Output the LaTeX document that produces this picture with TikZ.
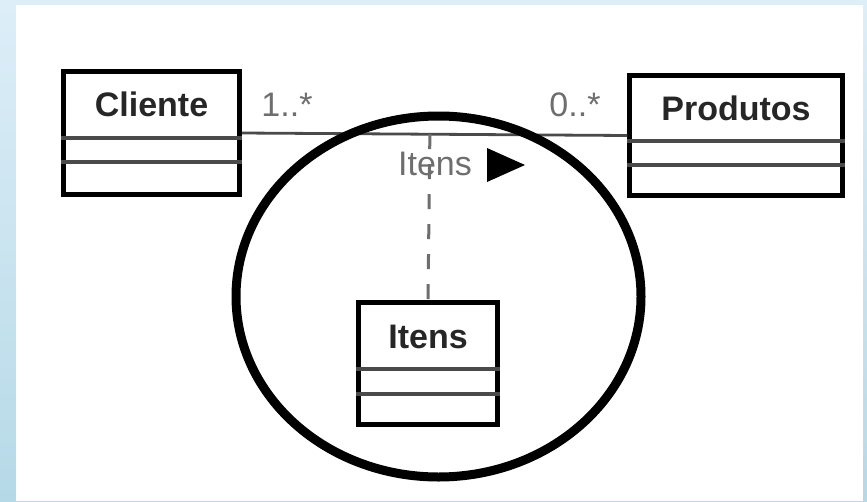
\documentclass[tikz,border=0pt]{standalone}
\usepackage{fontspec}
\setmainfont{Liberation Sans}
\usetikzlibrary{calc}
\definecolor{bgtop}{HTML}{DDEEF8}
\definecolor{bgbot}{HTML}{B6D9E7}
\definecolor{linegray}{HTML}{4A4A4A}
\definecolor{labelgray}{HTML}{6E6E6E}
\tikzset{
  classbox/.style={draw=black, line width=4.5pt, fill=white, inner sep=0pt},
  classname/.style={font=\fontsize{34}{40}\selectfont\bfseries, text=black!85, inner sep=0pt},
  divider/.style={draw=linegray, line width=3.5pt},
  assoc/.style={draw=linegray, line width=2.8pt},
  mult/.style={font=\fontsize{34}{40}\selectfont, text=labelgray, inner sep=0pt},
  dependency/.style={draw=labelgray, line width=3pt, dash pattern=on 15pt off 15pt},
  highlight/.style={draw=black, line width=9pt}
}
\begin{document}
\begin{tikzpicture}[x=1pt, y=-1pt]
  \useasboundingbox (0,0) rectangle (867,501);
  % page background with the white sheet
  \shade[top color=bgtop, bottom color=bgbot] (0,0) rectangle (867,501);
  \fill[white] (16,5) rectangle (863,501);

  % classes
  \node[classbox, minimum width=176pt, minimum height=123pt] (cl) at (151.5,133) {};
  \node[classbox, minimum width=213pt, minimum height=120pt] (pr) at (736,135.5) {};
  \node[classbox, minimum width=139pt, minimum height=122pt] (it) at (428,363.5) {};

  \node[classname] (clname) at ([yshift=-35.5pt]cl.north) {Cliente};
  \node[classname] (prname) at ([yshift=-35pt]pr.north) {Produtos};
  \node[classname] (itname) at ([yshift=-37pt]it.north) {Itens};

  % compartments
  \draw[divider] ([yshift=-68.5pt]cl.north west) -- ([yshift=-68.5pt]cl.north east);
  \draw[divider] ([yshift=-92.5pt]cl.north west) -- ([yshift=-92.5pt]cl.north east);
  \draw[divider] ([yshift=-67.5pt]pr.north west) -- ([yshift=-67.5pt]pr.north east);
  \draw[divider] ([yshift=-91.5pt]pr.north west) -- ([yshift=-91.5pt]pr.north east);
  \draw[divider] ([yshift=-68.5pt]it.north west) -- ([yshift=-68.5pt]it.north east);
  \draw[divider] ([yshift=-93.5pt]it.north west) -- ([yshift=-93.5pt]it.north east);

  % association between Cliente and Produtos
  \draw[assoc] (cl.east) -- (pr.west) coordinate[pos=0.488] (mid);
  \node[mult] (m1) at (287,105) {1..*};
  \node[mult] (m2) at (575,105) {0..*};
  \node[mult] (aname) at (435,164) {Itens};
  \fill[black] (487,148) -- (525,165) -- (487,182) -- cycle;

  % association class link
  \draw[dependency] (mid) -- (it.north);

  % emphasis ring
  \draw[highlight] (438.5,296.5) ellipse [x radius=202.5pt, y radius=180.5pt];
\end{tikzpicture}
\end{document}
